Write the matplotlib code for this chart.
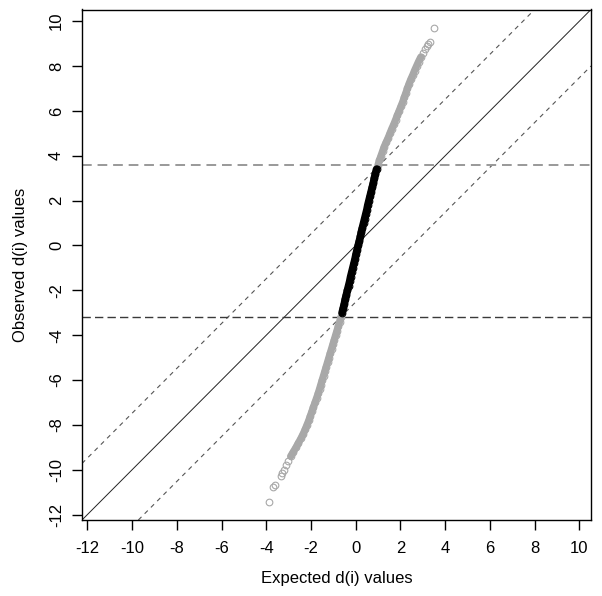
import matplotlib
matplotlib.use("Agg")
import matplotlib.pyplot as plt

plt.rcParams['font.family'] = ['Liberation Sans', 'DejaVu Sans']
plt.rcParams['axes.unicode_minus'] = False

# ---- data ----
# non-significant genes (black)
mid_expected = [-0.61, -0.56, -0.51, -0.47, -0.42, -0.37, -0.32, -0.27, -0.23, -0.18,
                -0.13, -0.08, -0.03, 0.01, 0.06, 0.11, 0.16, 0.21, 0.25, 0.30,
                0.35, 0.40, 0.45, 0.50, 0.54, 0.59, 0.64, 0.69, 0.74, 0.79,
                0.83, 0.88, 0.93]
mid_observed = [-3.0, -2.8, -2.6, -2.4, -2.2, -2.0, -1.8, -1.6, -1.4, -1.2,
                -1.0, -0.8, -0.6, -0.4, -0.2, 0.0, 0.2, 0.4, 0.6, 0.8,
                1.0, 1.2, 1.4, 1.6, 1.8, 2.0, 2.2, 2.4, 2.6, 2.8,
                3.0, 3.2, 3.4]

# significant genes, upper tail (gray)
up_expected = [1.00, 1.06, 1.13, 1.20, 1.27, 1.36, 1.45, 1.53, 1.61, 1.70,
               1.78, 1.86, 1.94, 2.02, 2.10, 2.17, 2.24, 2.31, 2.38, 2.46,
               2.55, 2.63, 2.72, 2.81, 2.91, 3.01, 3.09, 3.18, 3.25, 3.30, 3.52]
up_observed = [3.6, 3.8, 4.0, 4.2, 4.4, 4.6, 4.8, 5.0, 5.2, 5.4,
               5.6, 5.8, 6.0, 6.2, 6.4, 6.6, 6.8, 7.0, 7.2, 7.4,
               7.6, 7.8, 8.0, 8.2, 8.4, 8.6, 8.75, 8.9, 8.98, 9.06, 9.70]

# significant genes, lower tail (gray)
low_expected = [-0.67, -0.72, -0.78, -0.84, -0.90, -0.96, -1.02, -1.08, -1.14, -1.20,
                -1.26, -1.32, -1.38, -1.44, -1.50, -1.56, -1.62, -1.68, -1.75, -1.82,
                -1.89, -1.96, -2.03, -2.10, -2.18, -2.26, -2.35, -2.45, -2.56, -2.67,
                -2.79, -2.91, -3.03, -3.12, -3.20, -3.28, -3.35, -3.60, -3.68, -3.88]
low_observed = [-3.2, -3.4, -3.6, -3.8, -4.0, -4.2, -4.4, -4.6, -4.8, -5.0,
                -5.2, -5.4, -5.6, -5.8, -6.0, -6.2, -6.4, -6.6, -6.8, -7.0,
                -7.2, -7.4, -7.6, -7.8, -8.0, -8.2, -8.4, -8.6, -8.8, -9.0,
                -9.2, -9.4, -9.6, -9.8, -10.0, -10.15, -10.3, -10.7, -10.78, -11.42]

delta = 2.52
upper_cut = 3.57
lower_cut = -3.18
axis_lim = (-12.24, 10.52)
tick_values = list(range(-12, 11, 2))

# ---- figure ----
fig = plt.figure(figsize=(6.02, 5.96), dpi=100)
ax = fig.add_axes([82/602, 1 - 520/596, (591 - 82)/602, (520 - 9.5)/596])

ax.set_xlim(*axis_lim)
ax.set_ylim(*axis_lim)

# reference lines
ax.axline((0, 0), slope=1, color='#222222', lw=0.7, zorder=1)
ax.axline((0, delta), slope=1, color='#555555', lw=0.8, ls=(0, (4, 4)), zorder=1)
ax.axline((0, -delta), slope=1, color='#555555', lw=0.8, ls=(0, (4, 4)), zorder=1)
ax.axhline(upper_cut, color='#999999', lw=1.4, ls=(0, (5, 3)), zorder=1)
ax.axhline(lower_cut, color='#3a3a3a', lw=1.0, ls=(0, (6, 3)), zorder=1)

# points
gray = '#a8a8a8'
ax.plot(up_expected[:-6], up_observed[:-6], color=gray, lw=5.2, solid_capstyle='round', zorder=2)
ax.plot(low_expected[:-8], low_observed[:-8], color=gray, lw=5.2, solid_capstyle='round', zorder=2)
ax.plot(up_expected, up_observed, ls='none', marker='o', ms=4.8, mfc='none', mec=gray, mew=0.8, zorder=3)
ax.plot(low_expected, low_observed, ls='none', marker='o', ms=4.8, mfc='none', mec=gray, mew=0.8, zorder=3)
ax.plot(mid_expected, mid_observed, color='black', lw=5.5, solid_capstyle='round', zorder=4)
ax.plot(mid_expected, mid_observed, ls='none', marker='o', ms=4.8, mfc='none', mec='black', mew=0.8, zorder=4)

# axes styling
ax.set_xticks(tick_values)
ax.set_yticks(tick_values)
ax.tick_params(axis='both', direction='out', length=7, width=1, labelsize=12, colors='black')
ax.tick_params(axis='x', pad=8)
ax.tick_params(axis='y', pad=6)
for lbl in ax.get_yticklabels():
    lbl.set_rotation(90)
    lbl.set_va('center')
for sp in ax.spines.values():
    sp.set_linewidth(1.0)
    sp.set_color('black')

ax.set_xlabel('Expected d(i) values', fontsize=12, va='center')
ax.set_ylabel('Observed d(i) values', fontsize=12, va='center')
ax.xaxis.set_label_coords(0.5, (520 - 578) / 510.5)
ax.yaxis.set_label_coords((20.5 - 82) / 509, 0.5)

fig.savefig('out.png', dpi=100)
